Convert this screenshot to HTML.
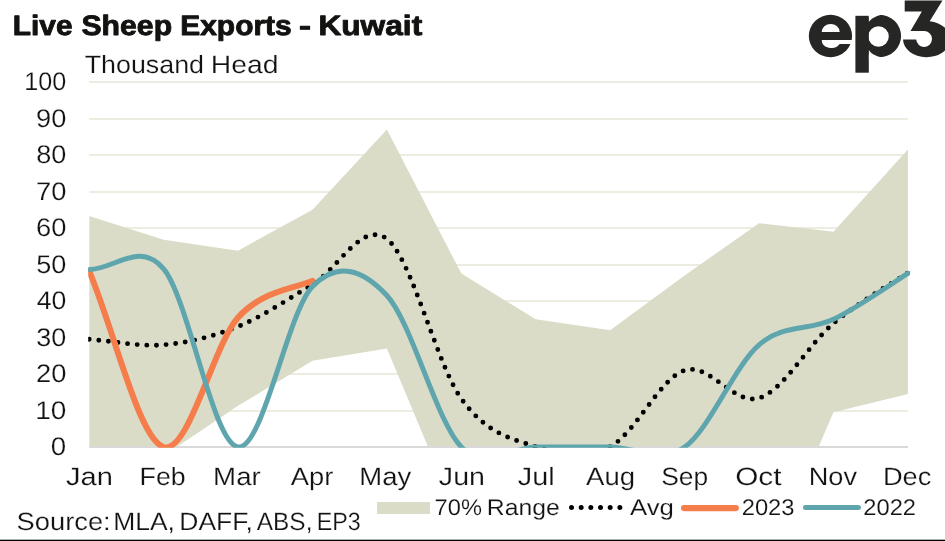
<!DOCTYPE html><html><head><meta charset="utf-8"><title>Live Sheep Exports - Kuwait</title>
<style>html,body{margin:0;padding:0;background:#fff;}body{width:945px;height:541px;overflow:hidden;font-family:"Liberation Sans",sans-serif;}svg{display:block;will-change:transform;}text{font-family:"Liberation Sans",sans-serif;text-rendering:geometricPrecision;}</style></head><body>
<svg width="945" height="541" viewBox="0 0 945 541">
<rect width="945" height="541" fill="#fff"/>
<defs><clipPath id="plot"><rect x="88.2" y="60" width="821.70" height="387.80"/></clipPath>
<clipPath id="plotfill"><rect x="89.2" y="60" width="818.80" height="387.00"/></clipPath></defs>
<rect x="89.2" y="410" width="818.8" height="2" fill="#ecece1"/>
<rect x="89.2" y="373" width="818.8" height="2" fill="#ecece1"/>
<rect x="89.2" y="337" width="818.8" height="2" fill="#ecece1"/>
<rect x="89.2" y="300" width="818.8" height="2" fill="#ecece1"/>
<rect x="89.2" y="264" width="818.8" height="2" fill="#ecece1"/>
<rect x="89.2" y="227" width="818.8" height="2" fill="#ecece1"/>
<rect x="89.2" y="191" width="818.8" height="2" fill="#ecece1"/>
<rect x="89.2" y="154" width="818.8" height="2" fill="#ecece1"/>
<rect x="89.2" y="118" width="818.8" height="2" fill="#ecece1"/>
<rect x="89.2" y="81" width="818.8" height="2" fill="#ecece1"/>
<path d="M89.20,215.96 L163.63,239.68 L238.05,250.63 L312.48,209.75 L386.91,129.45 L461.34,273.62 L535.76,319.25 L610.19,330.20 L684.62,275.45 L759.05,223.25 L833.47,231.65 L907.90,149.52 L907.90,394.07 L833.47,412.32 L759.05,585.70 L684.62,556.50 L610.19,556.50 L535.76,556.50 L461.34,526.57 L386.91,348.45 L312.48,360.86 L238.05,405.75 L163.63,455.76 L89.20,465.25 Z" fill="#dadcc7" clip-path="url(#plotfill)"/>
<rect x="89.2" y="446" width="818.8" height="2" fill="#d9d9d9"/>
<g clip-path="url(#plot)" fill="none" stroke-linejoin="round">
<path d="M89.20,339.32 C114.01,341.15 138.82,346.93 163.63,344.80 C188.44,342.67 213.25,336.59 238.05,326.55 C262.86,316.51 287.67,299.18 312.48,284.57 C337.29,269.97 362.10,219.91 386.91,238.95 C411.72,257.99 436.53,364.21 461.34,398.82 C486.15,433.43 510.95,438.67 535.76,446.63 C560.57,454.60 585.38,459.35 610.19,446.63 C635.00,433.92 659.81,378.44 684.62,370.35 C709.43,362.26 734.24,405.94 759.05,398.09 C783.85,390.24 808.66,344.13 833.47,323.26 C858.28,302.40 895.50,281.29 907.90,272.89" stroke="#000" stroke-width="4.9" stroke-linecap="round" stroke-dasharray="0 9.65"/>
<path d="M89.20,271.07 C114.01,329.71 138.82,439.27 163.63,447.00 C188.44,454.73 213.25,345.10 238.05,317.43 C262.86,289.75 300.08,287.01 312.48,280.93" stroke="#f47d4b" stroke-width="6" stroke-linecap="round"/>
<path d="M89.20,269.61 C114.01,269.37 139.71,240.37 163.63,268.88 C188.44,298.44 213.25,444.08 238.05,447.00 C262.86,449.92 287.67,311.65 312.48,286.40 C337.29,261.15 362.10,268.76 386.91,295.52 C411.72,322.29 436.53,421.75 461.34,447.00 C486.15,472.25 510.95,447.00 535.76,447.00 C560.57,447.00 585.38,447.00 610.19,447.00 C635.00,447.00 659.81,464.03 684.62,447.00 C709.43,429.97 734.24,366.09 759.05,344.80 C783.85,323.51 808.66,331.14 833.47,319.25 C858.28,307.36 895.50,281.08 907.90,273.44" stroke="#5fa5ae" stroke-width="5" stroke-linecap="round"/>
</g>
<text x="50.89" y="455.00" font-size="25.60" text-anchor="start" font-weight="normal" fill="#121210" textLength="15.4" lengthAdjust="spacingAndGlyphs" stroke="#fff" stroke-width="0.20">0</text>
<text x="35.30" y="419.00" font-size="25.60" text-anchor="start" font-weight="normal" fill="#121210" textLength="31.1" lengthAdjust="spacingAndGlyphs" stroke="#fff" stroke-width="0.20">10</text>
<text x="36.04" y="382.00" font-size="25.60" text-anchor="start" font-weight="normal" fill="#121210" textLength="30.4" lengthAdjust="spacingAndGlyphs" stroke="#fff" stroke-width="0.20">20</text>
<text x="36.39" y="346.00" font-size="25.60" text-anchor="start" font-weight="normal" fill="#121210" textLength="30.0" lengthAdjust="spacingAndGlyphs" stroke="#fff" stroke-width="0.20">30</text>
<text x="36.80" y="309.00" font-size="25.60" text-anchor="start" font-weight="normal" fill="#121210" textLength="29.6" lengthAdjust="spacingAndGlyphs" stroke="#fff" stroke-width="0.20">40</text>
<text x="36.32" y="273.00" font-size="25.60" text-anchor="start" font-weight="normal" fill="#121210" textLength="30.1" lengthAdjust="spacingAndGlyphs" stroke="#fff" stroke-width="0.20">50</text>
<text x="36.04" y="236.00" font-size="25.60" text-anchor="start" font-weight="normal" fill="#121210" textLength="30.4" lengthAdjust="spacingAndGlyphs" stroke="#fff" stroke-width="0.20">60</text>
<text x="36.04" y="200.00" font-size="25.60" text-anchor="start" font-weight="normal" fill="#121210" textLength="30.4" lengthAdjust="spacingAndGlyphs" stroke="#fff" stroke-width="0.20">70</text>
<text x="36.25" y="163.00" font-size="25.60" text-anchor="start" font-weight="normal" fill="#121210" textLength="30.1" lengthAdjust="spacingAndGlyphs" stroke="#fff" stroke-width="0.20">80</text>
<text x="36.11" y="127.00" font-size="25.60" text-anchor="start" font-weight="normal" fill="#121210" textLength="30.3" lengthAdjust="spacingAndGlyphs" stroke="#fff" stroke-width="0.20">90</text>
<text x="24.31" y="90.00" font-size="25.60" text-anchor="start" font-weight="normal" fill="#121210" textLength="42.0" lengthAdjust="spacingAndGlyphs" stroke="#fff" stroke-width="0.20">100</text>
<text x="65.96" y="485.00" font-size="25.00" text-anchor="start" font-weight="normal" fill="#121210" textLength="46.9" lengthAdjust="spacingAndGlyphs" stroke="#fff" stroke-width="0.20">Jan</text>
<text x="139.59" y="485.00" font-size="25.00" text-anchor="start" font-weight="normal" fill="#121210" textLength="46.1" lengthAdjust="spacingAndGlyphs" stroke="#fff" stroke-width="0.20">Feb</text>
<text x="213.12" y="485.00" font-size="25.00" text-anchor="start" font-weight="normal" fill="#121210" textLength="47.6" lengthAdjust="spacingAndGlyphs" stroke="#fff" stroke-width="0.20">Mar</text>
<text x="290.73" y="485.00" font-size="25.00" text-anchor="start" font-weight="normal" fill="#121210" textLength="42.6" lengthAdjust="spacingAndGlyphs" stroke="#fff" stroke-width="0.20">Apr</text>
<text x="359.33" y="485.00" font-size="25.00" text-anchor="start" font-weight="normal" fill="#121210" textLength="52.0" lengthAdjust="spacingAndGlyphs" stroke="#fff" stroke-width="0.20">May</text>
<text x="438.87" y="485.00" font-size="25.00" text-anchor="start" font-weight="normal" fill="#121210" textLength="46.1" lengthAdjust="spacingAndGlyphs" stroke="#fff" stroke-width="0.20">Jun</text>
<text x="517.77" y="485.00" font-size="25.00" text-anchor="start" font-weight="normal" fill="#121210" textLength="36.9" lengthAdjust="spacingAndGlyphs" stroke="#fff" stroke-width="0.20">Jul</text>
<text x="586.13" y="485.00" font-size="25.00" text-anchor="start" font-weight="normal" fill="#121210" textLength="49.0" lengthAdjust="spacingAndGlyphs" stroke="#fff" stroke-width="0.20">Aug</text>
<text x="661.21" y="485.00" font-size="25.00" text-anchor="start" font-weight="normal" fill="#121210" textLength="47.0" lengthAdjust="spacingAndGlyphs" stroke="#fff" stroke-width="0.20">Sep</text>
<text x="735.18" y="485.00" font-size="25.00" text-anchor="start" font-weight="normal" fill="#121210" textLength="46.4" lengthAdjust="spacingAndGlyphs" stroke="#fff" stroke-width="0.20">Oct</text>
<text x="808.76" y="485.00" font-size="25.00" text-anchor="start" font-weight="normal" fill="#121210" textLength="48.3" lengthAdjust="spacingAndGlyphs" stroke="#fff" stroke-width="0.20">Nov</text>
<text x="882.95" y="485.00" font-size="25.00" text-anchor="start" font-weight="normal" fill="#121210" textLength="48.4" lengthAdjust="spacingAndGlyphs" stroke="#fff" stroke-width="0.20">Dec</text>
<text x="12.79" y="35.00" font-size="28.00" text-anchor="start" font-weight="bold" fill="#121210" textLength="59.7" lengthAdjust="spacingAndGlyphs" stroke="#121210" stroke-width="0.90" stroke-linejoin="round">Live</text>
<text x="81.44" y="35.00" font-size="28.00" text-anchor="start" font-weight="bold" fill="#121210" textLength="90.7" lengthAdjust="spacingAndGlyphs" stroke="#121210" stroke-width="0.90" stroke-linejoin="round">Sheep</text>
<text x="180.23" y="35.00" font-size="28.00" text-anchor="start" font-weight="bold" fill="#121210" textLength="111.5" lengthAdjust="spacingAndGlyphs" stroke="#121210" stroke-width="0.90" stroke-linejoin="round">Exports</text>
<text x="299.01" y="35.00" font-size="28.00" text-anchor="start" font-weight="bold" fill="#121210" textLength="12.0" lengthAdjust="spacingAndGlyphs" stroke="#121210" stroke-width="0.90" stroke-linejoin="round">-</text>
<text x="318.41" y="35.00" font-size="28.00" text-anchor="start" font-weight="bold" fill="#121210" textLength="103.8" lengthAdjust="spacingAndGlyphs" stroke="#121210" stroke-width="0.90" stroke-linejoin="round">Kuwait</text>
<text x="84.70" y="73.00" font-size="25.00" text-anchor="start" font-weight="normal" fill="#121210" textLength="119.3" lengthAdjust="spacingAndGlyphs" stroke="#fff" stroke-width="0.20">Thousand</text>
<text x="210.86" y="73.00" font-size="25.00" text-anchor="start" font-weight="normal" fill="#121210" textLength="67.7" lengthAdjust="spacingAndGlyphs" stroke="#fff" stroke-width="0.20">Head</text>
<text x="16.57" y="530.00" font-size="25.00" text-anchor="start" font-weight="normal" fill="#121210" textLength="94.1" lengthAdjust="spacingAndGlyphs" stroke="#fff" stroke-width="0.20">Source:</text>
<text x="113.22" y="530.00" font-size="25.00" text-anchor="start" font-weight="normal" fill="#121210" textLength="61.7" lengthAdjust="spacingAndGlyphs" stroke="#fff" stroke-width="0.20">MLA,</text>
<text x="179.31" y="530.00" font-size="25.00" text-anchor="start" font-weight="normal" fill="#121210" textLength="73.6" lengthAdjust="spacingAndGlyphs" stroke="#fff" stroke-width="0.20">DAFF,</text>
<text x="256.84" y="530.00" font-size="25.00" text-anchor="start" font-weight="normal" fill="#121210" textLength="55.6" lengthAdjust="spacingAndGlyphs" stroke="#fff" stroke-width="0.20">ABS,</text>
<text x="316.68" y="530.00" font-size="25.00" text-anchor="start" font-weight="normal" fill="#121210" textLength="44.0" lengthAdjust="spacingAndGlyphs" stroke="#fff" stroke-width="0.20">EP3</text>
<rect x="377" y="502" width="53" height="12" fill="#dadcc7"/>
<text x="434.64" y="515.00" font-size="22.60" text-anchor="start" font-weight="normal" fill="#121210" textLength="47.3" lengthAdjust="spacingAndGlyphs" stroke="#fff" stroke-width="0.15">70%</text>
<text x="486.88" y="515.00" font-size="22.60" text-anchor="start" font-weight="normal" fill="#121210" textLength="72.9" lengthAdjust="spacingAndGlyphs" stroke="#fff" stroke-width="0.15">Range</text>
<path d="M571.5,507.5 H621" stroke="#000" stroke-width="5" stroke-linecap="round" stroke-dasharray="0 9.67" fill="none"/>
<text x="630.06" y="515.00" font-size="22.60" text-anchor="start" font-weight="normal" fill="#121210" textLength="43.9" lengthAdjust="spacingAndGlyphs" stroke="#fff" stroke-width="0.15">Avg</text>
<path d="M684,508.1 H735.9" stroke="#f47d4b" stroke-width="6.1" stroke-linecap="round" fill="none"/>
<text x="741.74" y="515.00" font-size="22.60" text-anchor="start" font-weight="normal" fill="#121210" textLength="52.7" lengthAdjust="spacingAndGlyphs" stroke="#fff" stroke-width="0.15">2023</text>
<path d="M805.5,507.5 H858.4" stroke="#5fa5ae" stroke-width="5.1" stroke-linecap="round" fill="none"/>
<text x="863.34" y="515.00" font-size="22.60" text-anchor="start" font-weight="normal" fill="#121210" textLength="52.7" lengthAdjust="spacingAndGlyphs" stroke="#fff" stroke-width="0.15">2022</text>
<g fill="#262624">
<ellipse cx="830.45" cy="36" rx="21.65" ry="21.2"/>
<path fill="#fff" d="M821.7,32.1 A9,8.2 0 0 1 839.7,32.1 Z M821.7,40 L853,40 L853,44 L839.6,44 A9.6,8 0 0 1 821.7,40 Z"/>
<rect x="855.4" y="15.8" width="13.4" height="56.9"/>
<path fill-rule="evenodd" d="M857.9,36 a21.6,21.2 0 1,0 43.2,0 a21.6,21.2 0 1,0 -43.2,0 Z M868.2,36.5 a10.3,10.3 0 1,0 20.6,0 a10.3,10.3 0 1,0 -20.6,0 Z"/>
<path fill="#fff" d="M868.9,12 L868.9,22 C870.5,19.6 874.5,16.4 881,14.75 L881,12 Z M868.9,60 L868.9,50 C870.5,53 874.5,55.8 881.5,57.25 L881.5,60 Z"/>
<path d="M904.7,0.5 L942.5,0.5 L929.7,21.3 A23.7,18 0 1 1 903,39.6 L916.2,39.6 A7.9,8 0 1 0 924.1,31 L910.5,31 L921.9,11.5 L904.7,11.5 Z"/>
</g>
<rect x="0" y="539.7" width="945" height="1.3" fill="#000"/>
</svg></body></html>
